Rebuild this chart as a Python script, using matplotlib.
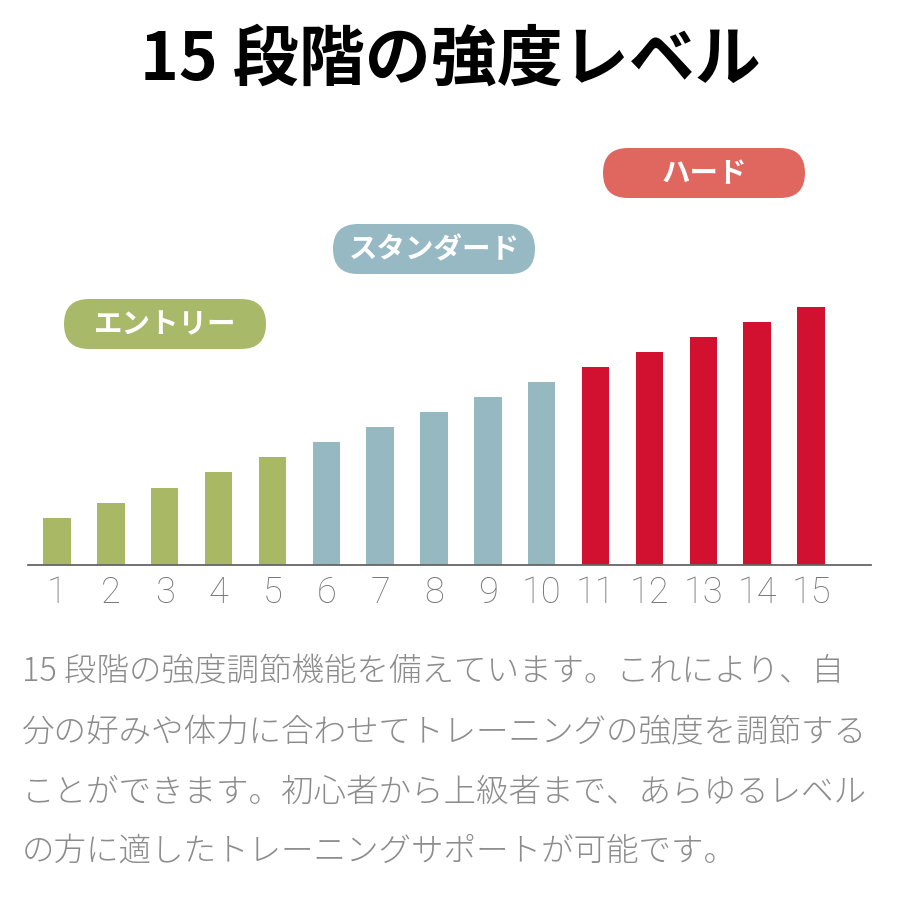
import matplotlib
matplotlib.use("Agg")
import matplotlib.pyplot as plt
from matplotlib.patches import FancyBboxPatch

# ---- data ----
levels = [1, 2, 3, 4, 5, 6, 7, 8, 9, 10, 11, 12, 13, 14, 15]
intensity = [47.5, 62.5, 77.5, 92.5, 107.5, 122.5, 137.5, 152.5,
             167.5, 182.5, 197.5, 212.5, 227.5, 242.5, 257.5]
group_of_level = [0, 0, 0, 0, 0, 1, 1, 1, 1, 1, 2, 2, 2, 2, 2]
group_names = ["エントリー", "スタンダード", "ハード"]
bar_colors = ["#a9b865", "#95b8c1", "#d2102f"]
pill_colors = ["#a9b96a", "#97b9c3", "#e0675f"]
title = "15 段階の強度レベル"
body_lines = [
    "15 段階の強度調節機能を備えています。これにより、自",
    "分の好みや体力に合わせてトレーニングの強度を調節する",
    "ことができます。初心者から上級者まで、あらゆるレベル",
    "の方に適したトレーニングサポートが可能です。",
]

CJK = ["Noto Sans CJK JP", "DejaVu Sans"]

fig = plt.figure(figsize=(9, 9), dpi=100)
fig.patch.set_facecolor("white")

# overlay in pixel coordinates
ov = fig.add_axes([0, 0, 1, 1])
ov.set_xlim(0, 900)
ov.set_ylim(900, 0)
ov.axis("off")

ov.text(450, 60, title, ha="center", va="center", fontsize=47.5,
        fontweight="bold", family=CJK, color="#000000")

pill_centers = [(165, 324), (434, 249), (704, 173)]
pw, ph = 202, 50
for (cx, cy), name, col in zip(pill_centers, group_names, pill_colors):
    ov.add_patch(FancyBboxPatch((cx - pw / 2, cy - ph / 2), pw, ph,
                                boxstyle="round,pad=0,rounding_size=25",
                                fc=col, ec="none"))
    ov.text(cx, cy + 1, name, ha="center", va="center", fontsize=20.5,
            fontweight="bold", family=CJK, color="white")

line_y = [672, 733, 793, 851]
for y, line in zip(line_y, body_lines):
    ov.text(22, y, line, ha="left", va="center", fontsize=23.45,
            fontweight="light", family=CJK, color="#8c8c8c")

# chart
ax = fig.add_axes([28 / 900, (900 - 565) / 900, (871 - 28) / 900, 265 / 900])
ax.bar(levels, intensity, width=0.51,
       color=[bar_colors[g] for g in group_of_level], zorder=2)
ax.set_xlim(1 - 29 / 53.86, 1 + (871 - 57) / 53.86)
ax.set_ylim(0, 265)
for s in ["top", "right", "left"]:
    ax.spines[s].set_visible(False)
ax.spines["bottom"].set_color("#666666")
ax.spines["bottom"].set_linewidth(1.3)
ax.set_yticks([])
ax.set_xticks(levels)
ax.set_xticklabels([str(v) for v in levels], fontsize=26,
                   family=["Roboto", "DejaVu Sans"], fontweight="light",
                   color="#777777")
ax.tick_params(axis="x", length=0, pad=7)
ax.patch.set_alpha(0)

fig.savefig("out.png", dpi=100, facecolor="white")
